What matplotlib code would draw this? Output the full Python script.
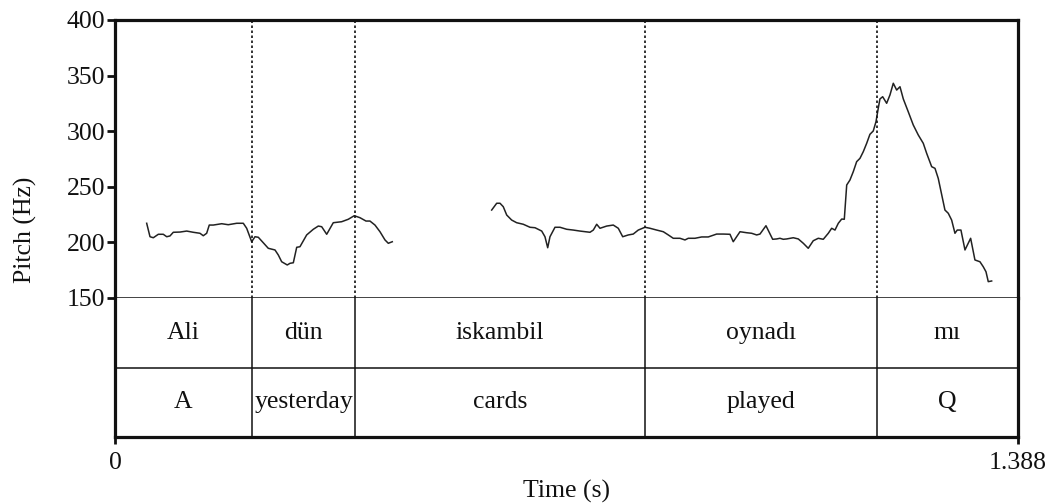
import matplotlib
matplotlib.use("Agg")
import matplotlib.pyplot as plt
import numpy as np

plt.rcParams['font.family'] = ['Liberation Serif', 'DejaVu Serif']

# pitch contour (s, Hz), two voiced stretches
seg1_t = [0.0487, 0.0538, 0.0589, 0.0666, 0.0742, 0.0795, 0.0845, 0.0896, 0.0999, 0.1102,
          0.1203, 0.1306, 0.1357, 0.1409, 0.1449, 0.1511, 0.1640, 0.1741, 0.1871, 0.1972,
          0.2024, 0.2101, 0.2152, 0.2203, 0.2279, 0.2356, 0.2459, 0.2510, 0.2562, 0.2648,
          0.2690, 0.2741, 0.2793, 0.2843, 0.2946, 0.3048, 0.3125, 0.3177, 0.3254, 0.3355,
          0.3484, 0.3586, 0.3678, 0.3766, 0.3858, 0.3919, 0.3996, 0.4073, 0.4150, 0.4201,
          0.4262]
seg1_hz = [217.2, 205.1, 204.2, 207.3, 207.3, 205.1, 205.8, 209.1, 209.3, 210.2,
           209.1, 208.2, 206.0, 208.2, 215.6, 215.6, 216.8, 215.9, 217.2, 217.2,
           212.7, 200.6, 205.1, 204.6, 199.7, 194.7, 193.2, 188.7, 182.6, 179.7,
           181.2, 181.7, 195.6, 196.1, 206.7, 211.8, 214.7, 214.1, 207.3, 217.7,
           218.6, 220.8, 224.0, 222.2, 219.2, 219.2, 215.6, 209.6, 202.2, 199.2,
           200.6]

seg2_t = [0.5790, 0.5867, 0.5918, 0.5968, 0.6021, 0.6097, 0.6174, 0.6276, 0.6379, 0.6456,
          0.6559, 0.6609, 0.6651, 0.6686, 0.6763, 0.6840, 0.6943, 0.7044, 0.7147, 0.7301,
          0.7352, 0.7404, 0.7455, 0.7558, 0.7659, 0.7736, 0.7804, 0.7890, 0.7966, 0.8043,
          0.8146, 0.8223, 0.8326, 0.8428, 0.8505, 0.8581, 0.8684, 0.8761, 0.8812, 0.8915,
          0.9018, 0.9119, 0.9248, 0.9350, 0.9453, 0.9503, 0.9607, 0.9709, 0.9786, 0.9863,
          0.9914, 1.0006, 1.0109, 1.0170, 1.0221, 1.0272, 1.0324, 1.0426, 1.0503, 1.0580,
          1.0656, 1.0733, 1.0810, 1.0887, 1.0964, 1.1016, 1.1067, 1.1118, 1.1170, 1.1210,
          1.1247, 1.1297, 1.1348, 1.1400, 1.1451, 1.1502, 1.1554, 1.1604, 1.1655, 1.1697,
          1.1732, 1.1758, 1.1800, 1.1861, 1.1912, 1.1963, 1.2015, 1.2066, 1.2117, 1.2193,
          1.2270, 1.2347, 1.2424, 1.2476, 1.2553, 1.2604, 1.2654, 1.2757, 1.2808, 1.2860,
          1.2911, 1.2946, 1.3003, 1.3065, 1.3152, 1.3218, 1.3295, 1.3346, 1.3388, 1.3423,
          1.3475]
seg2_hz = [229.1, 235.2, 235.2, 232.1, 224.6, 220.1, 217.7, 216.3, 213.6, 213.2,
           210.2, 205.1, 195.2, 205.1, 213.6, 213.6, 211.8, 211.1, 210.2, 209.1,
           211.1, 216.3, 212.7, 214.7, 215.6, 212.7, 205.1, 206.7, 207.5, 211.1,
           213.6, 212.7, 211.1, 209.6, 206.7, 203.7, 203.7, 202.2, 203.7, 203.7,
           204.9, 204.9, 207.5, 207.5, 207.3, 200.6, 209.6, 208.7, 208.2, 206.7,
           207.5, 215.0, 202.8, 203.1, 203.7, 202.8, 203.1, 204.2, 203.1, 199.2,
           194.7, 201.5, 203.7, 202.8, 208.2, 212.7, 211.1, 217.2, 221.0, 220.8,
           251.6, 256.1, 263.6, 272.6, 275.6, 281.6, 289.1, 297.2, 300.2, 308.5,
           320.6, 329.0, 331.0, 325.1, 332.6, 343.1, 337.0, 340.0, 329.0, 317.5,
           305.6, 296.6, 289.1, 280.1, 268.1, 266.6, 257.6, 229.1, 226.2, 220.1,
           208.2, 211.1, 211.1, 193.2, 203.7, 184.2, 182.6, 178.1, 173.6, 164.7,
           165.3]

# text grid
t_end = 1.388
bounds = [0.2106, 0.3689, 0.8146, 1.1712]
words = ['Ali', 'dün', 'iskambil', 'oynadı', 'mı']
gloss = ['A', 'yesterday', 'cards', 'played', 'Q']
y_ticks = [150, 200, 250, 300, 350, 400]

fs = 18.5
fig = plt.figure(figsize=(10.5, 5.04), dpi=100)
L, W = 115 / 1050, 903 / 1050
ax = fig.add_axes([L, 1 - 298 / 504, W, 278 / 504])
tx = fig.add_axes([L, 1 - 437 / 504, W, 139 / 504], sharex=ax)

ink = '#111111'
thick = 2.3

ax.plot(seg1_t, seg1_hz, color='#222222', lw=1.1)
ax.plot(seg2_t, seg2_hz, color='#222222', lw=1.1)
for b in bounds:
    ax.axvline(b, color=ink, lw=1.2, ls=(0, (1.5, 1.5)))
ax.set_xlim(0, t_end)
ax.set_ylim(150, 400)
ax.set_yticks(y_ticks)
ax.tick_params(axis='y', direction='out', length=6, width=2, pad=1, labelsize=fs, colors=ink)
ax.tick_params(axis='x', bottom=False, labelbottom=False)
for s in ['left', 'top', 'right']:
    ax.spines[s].set_linewidth(thick)
    ax.spines[s].set_color(ink)
ax.spines['bottom'].set_linewidth(1.1)
ax.spines['bottom'].set_color(ink)

# tiers
tx.set_ylim(0, 2)
tx.axhline(1, color=ink, lw=1.1)
for b in bounds:
    tx.axvline(b, color=ink, lw=1.1)
edges = [0] + bounds + [t_end]
for i in range(len(words)):
    xc = (edges[i] + edges[i + 1]) / 2
    tx.text(xc, 1.5, words[i], ha='center', va='center', fontsize=fs, color=ink)
    tx.text(xc, 0.5, gloss[i], ha='center', va='center', fontsize=fs, color=ink)
tx.set_yticks([])
tx.set_xticks([0, t_end])
tx.set_xticklabels(['0', '1.388'])
tx.tick_params(axis='x', direction='out', length=5, width=2, pad=6, labelsize=fs, colors=ink)
tx.spines['top'].set_visible(False)
for s in ['left', 'bottom', 'right']:
    tx.spines[s].set_linewidth(thick)
    tx.spines[s].set_color(ink)
tx.set_xlabel('Time (s)', fontsize=fs, color=ink, labelpad=4)

fig.text(25 / 1050, 1 - 230 / 504, 'Pitch (Hz)', rotation=90, ha='center', va='center',
         fontsize=fs, color=ink)

fig.savefig('out.png', dpi=100)
